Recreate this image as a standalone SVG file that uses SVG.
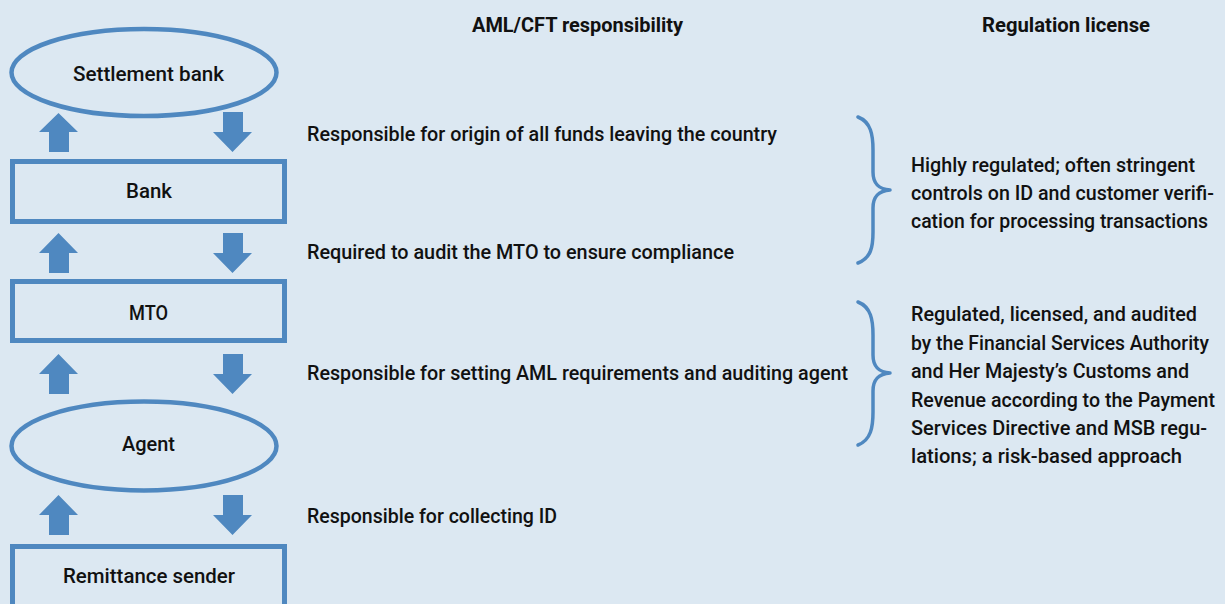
<svg xmlns="http://www.w3.org/2000/svg" width="1225" height="604" viewBox="0 0 1225 604">
<style>
.bg{fill:#dce8f2}
.box{fill:none;stroke:#4f88c0;stroke-width:5}
.ell{fill:none;stroke:#4f88c0;stroke-width:4.5}
.arr{fill:#4f88c0}
.brace{fill:none;stroke:#4f88c0;stroke-width:3.5;stroke-linecap:round;stroke-linejoin:round}
text{font-family:Roboto,"Liberation Sans",sans-serif;font-size:21px;font-weight:500;fill:#111}
.hd{font-weight:bold}
</style>
<rect class="bg" x="0" y="0" width="1225" height="604"/>
<g id="headers">
<text class="hd" x="472" y="32" textLength="211" lengthAdjust="spacingAndGlyphs">AML/CFT responsibility</text>
<text class="hd" x="982" y="32" textLength="168" lengthAdjust="spacingAndGlyphs">Regulation license</text>
</g>
<g id="settlement-bank">
<ellipse class="ell" cx="144" cy="72.5" rx="132.5" ry="43.5"/>
<text x="73" y="81" textLength="151" lengthAdjust="spacingAndGlyphs">Settlement bank</text>
</g>
<g id="bank">
<rect class="box" x="12.5" y="161.5" width="272" height="60"/>
<text x="126" y="198" textLength="46" lengthAdjust="spacingAndGlyphs">Bank</text>
</g>
<g id="mto">
<rect class="box" x="12.5" y="281.5" width="272" height="59"/>
<text x="129" y="320" textLength="39" lengthAdjust="spacingAndGlyphs">MTO</text>
</g>
<g id="agent">
<ellipse class="ell" cx="144" cy="446" rx="132.5" ry="44.5"/>
<text x="122" y="451" textLength="53" lengthAdjust="spacingAndGlyphs">Agent</text>
</g>
<g id="remittance-sender">
<rect class="box" x="12.5" y="546.5" width="272" height="80"/>
<text x="63" y="583" textLength="172" lengthAdjust="spacingAndGlyphs">Remittance sender</text>
</g>
<g id="connectors">
<polygon class="arr" points="58.5,113 78,132 69,132 69,152 49,152 49,132 39,132"/>
<polygon class="arr" points="223,112 243,112 243,132 252,132 232.5,152 213,132 223,132"/>
<polygon class="arr" points="58.5,233 78,253 69,253 69,273 49,273 49,253 39,253"/>
<polygon class="arr" points="223,233 243,233 243,253 252,253 232.5,273 213,253 223,253"/>
<polygon class="arr" points="58.5,354 78,374 69,374 69,394 49,394 49,374 39,374"/>
<polygon class="arr" points="223,354 243,354 243,374 252,374 232.5,394 213,374 223,374"/>
<polygon class="arr" points="58.5,495 78,515 69,515 69,535 49,535 49,515 39,515"/>
<polygon class="arr" points="223,495 243,495 243,515 252,515 232.5,535 213,515 223,515"/>
</g>
<g id="responsibilities">
<text x="307" y="141" textLength="470" lengthAdjust="spacingAndGlyphs">Responsible for origin of all funds leaving the country</text>
<text x="307" y="259" textLength="427" lengthAdjust="spacingAndGlyphs">Required to audit the MTO to ensure compliance</text>
<text x="307" y="380" textLength="541" lengthAdjust="spacingAndGlyphs">Responsible for setting AML requirements and auditing agent</text>
<text x="307" y="523" textLength="250" lengthAdjust="spacingAndGlyphs">Responsible for collecting ID</text>
</g>
<g id="brace-1">
<path class="brace" d="M858,117 C871,122 873,135 873,150 L873,172 C873,184 879,189 890,190 C879,191 873,196 873,208 L873,232 C873,247 871,258 858,263"/>
<text x="911" y="171.5" textLength="284" lengthAdjust="spacingAndGlyphs">Highly regulated; often stringent</text>
<text x="911" y="199.5" textLength="303" lengthAdjust="spacingAndGlyphs">controls on ID and customer verifi-</text>
<text x="911" y="228" textLength="297" lengthAdjust="spacingAndGlyphs">cation for processing transactions</text>
</g>
<g id="brace-2">
<path class="brace" d="M858,302 C871,307 873,320 873,335 L873,355 C873,367 879,372 890,373 C879,374 873,379 873,391 L873,412 C873,427 871,440 858,445"/>
<text x="911" y="321" textLength="286" lengthAdjust="spacingAndGlyphs">Regulated, licensed, and audited</text>
<text x="911" y="349.5" textLength="298" lengthAdjust="spacingAndGlyphs">by the Financial Services Authority</text>
<text x="911" y="378" textLength="278" lengthAdjust="spacingAndGlyphs">and Her Majesty’s Customs and</text>
<text x="911" y="406.5" textLength="304" lengthAdjust="spacingAndGlyphs">Revenue according to the Payment</text>
<text x="911" y="435" textLength="296" lengthAdjust="spacingAndGlyphs">Services Directive and MSB regu-</text>
<text x="911" y="463" textLength="271" lengthAdjust="spacingAndGlyphs">lations; a risk-based approach</text>
</g>
</svg>
